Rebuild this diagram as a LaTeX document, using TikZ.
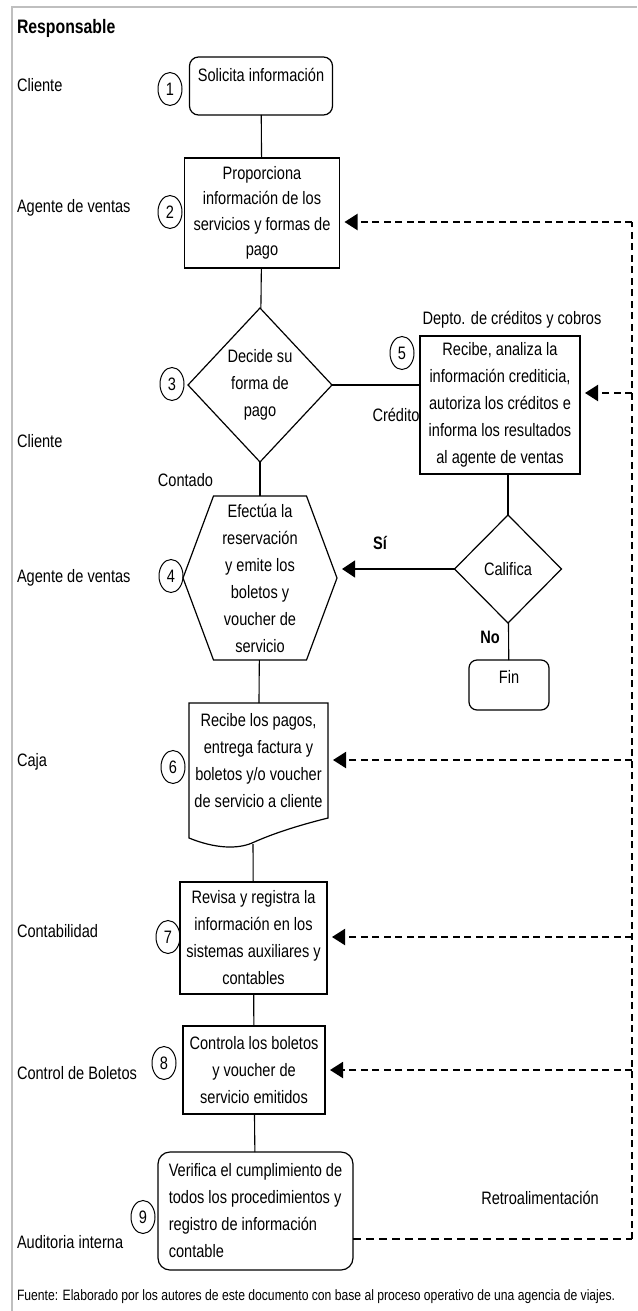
\documentclass[tikz,border=0pt]{standalone}
\usepackage{fontspec}
\setmainfont[FakeStretch=0.81]{Liberation Sans}
\usetikzlibrary{shapes.geometric,arrows.meta}

\begin{document}
\begin{tikzpicture}[x=1pt, y=-1pt,
    every node/.style={font=\fontsize{18}{27}\selectfont, align=center, inner sep=0pt, outer sep=0pt},
    box/.style={draw, line width=1.2pt},
    num/.style={draw, ellipse, line width=1pt, minimum width=24pt, minimum height=33pt},
    lane/.style={anchor=west},
    link/.style={line width=1.1pt},
    fb/.style={line width=2pt, dash pattern=on 7pt off 4.5pt},
    fbarrow/.style={fb, -{Triangle[length=13pt, width=16pt]}, shorten >=5pt},
    retro/.style={line width=1.2pt, dash pattern=on 8pt off 5pt}]
    \useasboundingbox (0, 0) rectangle (637, 1311);
    \draw[black!25, line width=2pt] (637, 7) -- (12, 7) -- (12, 1311);

    % responsables
    \node[lane, font=\fontsize{19.5}{27}\selectfont\bfseries](resp) at (17, 28) {Responsable};
    \node[lane](l1) at (17, 85) {Cliente};
    \node[lane](l2) at (17, 208) {Agente de ventas};
    \node[lane](l3) at (17, 441) {Cliente};
    \node[lane](l4) at (17, 578) {Agente de ventas};
    \node[lane](l6) at (17, 762) {Caja};
    \node[lane](l7) at (17, 931) {Contabilidad};
    \node[lane](l8) at (17, 1073) {Control de Boletos};
    \node[lane](l9) at (17, 1242) {Auditoria interna};

    % pasos
    \node[box, rounded corners=9pt, minimum width=143pt, minimum height=58pt, text height=13pt, text depth=22pt](s1) at (261, 86) {Solicita información};
    \node[box, minimum width=155pt, minimum height=110pt, font=\fontsize{18}{25.5}\selectfont](s2) at (262, 213) {Proporciona\\información de los\\servicios y formas de\\pago};
    \node[minimum width=144pt, minimum height=154pt](s3) at (260, 385) {Decide su\\forma de\\pago};
    \draw[box] (s3.north) -- (s3.east) -- (s3.south) -- (s3.west) -- cycle;
    \node[minimum width=154pt, minimum height=164pt](s4) at (260, 578) {Efectúa la\\reservación\\y emite los\\boletos y\\voucher de\\servicio};
    \draw[box] ([xshift=30.5pt]s4.north west) -- ([xshift=-30.5pt]s4.north east) -- (s4.east)
        -- ([xshift=-30.5pt]s4.south east) -- ([xshift=30.5pt]s4.south west) -- (s4.west) -- cycle;
    \node[box, minimum width=160pt, minimum height=138pt](s5) at (500, 405) {Recibe, analiza la\\información crediticia,\\autoriza los créditos e\\informa los resultados\\al agente de ventas};
    \node[minimum width=107pt, minimum height=108pt](cal) at (508, 569) {Califica};
    \draw[box] (cal.north) -- (cal.east) -- (cal.south) -- (cal.west) -- cycle;
    \node[box, rounded corners=8pt, minimum width=80pt, minimum height=50pt, text height=13pt, text depth=16pt](fin) at (509, 685) {Fin};
    \node[minimum width=139pt, minimum height=115pt](s6) at (258.5, 760.5) {Recibe los pagos,\\entrega factura y\\boletos y/o voucher\\de servicio a cliente};
    \draw[box] (189, 838) -- (189, 703) -- (328, 703) -- (328, 818)
        .. controls (296, 826) and (272, 834) .. (252, 843)
        .. controls (238, 849) and (216, 849) .. (189, 838) -- cycle;
    \coordinate (s6b) at (253, 844);
    \node[box, minimum width=147pt, minimum height=112pt](s7) at (253.5, 938) {Revisa y registra la\\información en los\\sistemas auxiliares y\\contables};
    \node[box, minimum width=142pt, minimum height=88pt](s8) at (254, 1070) {Controla los boletos\\y voucher de\\servicio emitidos};
    \node[box, rounded corners=12pt, minimum width=195pt, minimum height=118pt, align=left](s9) at (255.5, 1211) {Verifica el cumplimiento de\\todos los procedimientos y\\registro de información\\contable};

    % numeros
    \node[num](n1) at (170, 89) {1};
    \node[num](n2) at (170, 212) {2};
    \node[num](n3) at (172, 384) {3};
    \node[num](n4) at (171, 576) {4};
    \node[num](n5) at (402, 353) {5};
    \node[num](n6) at (173, 767) {6};
    \node[num](n7) at (168, 937) {7};
    \node[num](n8) at (164, 1063) {8};
    \node[num](n9) at (143, 1217) {9};

    % etiquetas
    \node[](depto) at (512, 320) {Depto. de créditos y cobros};
    \node[](credito) at (396, 415) {Crédito};
    \node[](contado) at (185.5, 480) {Contado};
    \node[font=\fontsize{18}{27}\selectfont\bfseries](si) at (380, 543) {Sí};
    \node[font=\fontsize{18}{27}\selectfont\bfseries](no) at (490, 637) {No};
    \node[](retroal) at (540, 1198) {Retroalimentación};
    \node[lane, font=\fontsize{15}{18}\selectfont](fuente) at (17, 1297) {Fuente: Elaborado por los autores de este documento con base al proceso operativo de una agencia de viajes.};

    \draw[link] (s1) edge (s2) (s2) edge (s3) (s3) edge (s4) (s4) edge (s6)
        (s6b) edge (s7) (s7) edge (s8) (s8) edge (s9) (cal) edge (fin);
    \draw[link] (s3.east) -- (s3.east -| s5.west);
    \draw[link] (cal.north |- s5.south) -- (cal.north);
    \draw[link, -{Triangle[length=13pt, width=17pt]}, shorten >=5pt] (cal.west) -- (cal.west -| s4.east);

    % retroalimentacion
    \coordinate (fbb) at (632, 1239);
    \coordinate (fbt) at (632, 222);
    \draw[retro] (s9.east |- fbb) -- (fbb);
    \draw[fb] (fbb) -- (fbt);
    \foreach \n/\y in {s2/222, s5/393, s6/760, s7/937, s8/1070} {
        \coordinate (fb\n) at (632, \y);
        \draw[fbarrow] (fb\n) -- (fb\n -| \n.east);
    }
\end{tikzpicture}
\end{document}
